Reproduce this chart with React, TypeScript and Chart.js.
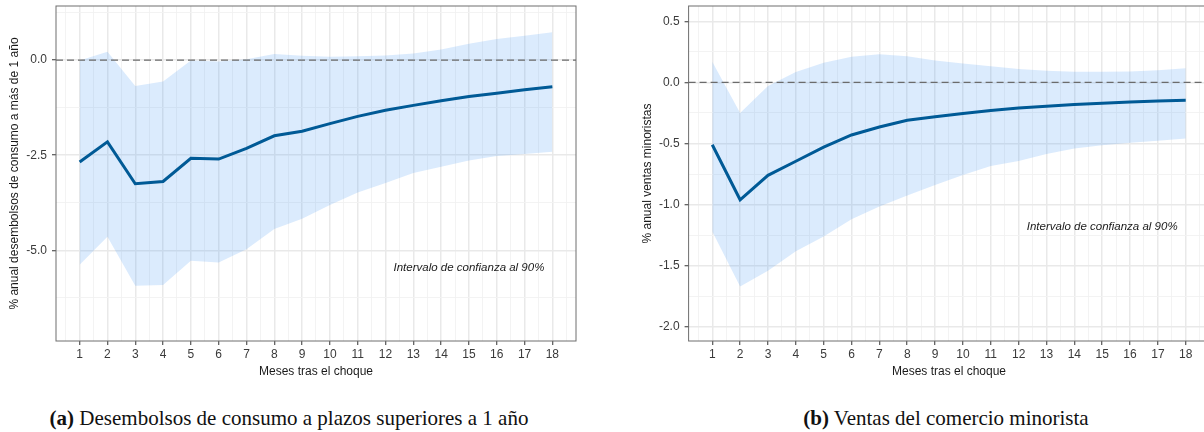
import React, { useEffect, useRef } from "react";
import { Chart, registerables } from "chart.js";

Chart.register(...registerables);

// ---------- data ----------
const months = [1, 2, 3, 4, 5, 6, 7, 8, 9, 10, 11, 12, 13, 14, 15, 16, 17, 18];

const consumoIrf = [-2.68, -2.15, -3.25, -3.19, -2.58, -2.6, -2.32, -1.99, -1.87, -1.67, -1.48, -1.32, -1.19, -1.07, -0.96, -0.87, -0.78, -0.7];
const consumoUpper = [-0.01, 0.22, -0.68, -0.56, -0.01, -0.04, 0.02, 0.16, 0.11, 0.09, 0.1, 0.12, 0.17, 0.28, 0.43, 0.55, 0.64, 0.73];
const consumoLower = [-5.38, -4.64, -5.93, -5.91, -5.27, -5.32, -4.97, -4.44, -4.17, -3.81, -3.48, -3.23, -2.97, -2.8, -2.64, -2.52, -2.47, -2.41];

const ventasIrf = [-0.51, -0.96, -0.76, -0.645, -0.53, -0.43, -0.365, -0.31, -0.28, -0.255, -0.23, -0.21, -0.195, -0.18, -0.17, -0.16, -0.152, -0.145];
const ventasUpper = [0.17, -0.25, -0.03, 0.085, 0.16, 0.21, 0.23, 0.215, 0.18, 0.155, 0.133, 0.11, 0.095, 0.087, 0.087, 0.09, 0.1, 0.115];
const ventasLower = [-1.22, -1.67, -1.54, -1.38, -1.26, -1.12, -1.015, -0.925, -0.84, -0.757, -0.684, -0.643, -0.586, -0.54, -0.513, -0.494, -0.477, -0.458];

const consumoYTicks = [0, -2.5, -5];
const ventasYTicks = [0.5, 0, -0.5, -1, -1.5, -2];

const xTitle = "Meses tras el choque";
const consumoYTitle = "% anual desembolsos de consumo a más de 1 año";
const ventasYTitle = "% anual ventas minoristas";
const noteText = "Intervalo de confianza al 90%";
const captionA = ["(a)", " Desembolsos de consumo a plazos superiores a 1 año"];
const captionB = ["(b)", " Ventas del comercio minorista"];

// ---------- styling ----------
const FONT = "'Liberation Sans', Arial, Helvetica, sans-serif";
const SERIF = "'Liberation Serif', 'Times New Roman', serif";
const LINE = "#005a96";
const BAND = "rgba(75,155,245,0.2)";

const isIn = (v: number, arr: number[]) => arr.some((a) => Math.abs(a - v) < 1e-6);

type PanelProps = {
  irf: number[];
  upper: number[];
  lower: number[];
  yMin: number;
  yMax: number;
  yStep: number;
  yTicks: number[];
  yTitle: string;
  note: { x: number; y: number };
  left: number;
  yAxisWidth: number;
  yTitlePad: number;
  padRight: number;
};

function Panel(p: PanelProps) {
  const ref = useRef<HTMLCanvasElement | null>(null);
  useEffect(() => {
    if (!ref.current) return;
    const xMajor = (ctx: any) => ctx.tick && isIn(ctx.tick.value, months);
    const yMajor = (ctx: any) => ctx.tick && isIn(ctx.tick.value, p.yTicks);

    const panelPlugin = {
      id: "panelDecor",
      afterDatasetsDraw(chart: any) {
        const { ctx, chartArea, scales } = chart;
        const { left, right, top, bottom } = chartArea;
        ctx.save();
        ctx.beginPath();
        ctx.rect(left, top, right - left, bottom - top);
        ctx.clip();
        const y0 = scales.y.getPixelForValue(0);
        ctx.setLineDash([7, 4]);
        ctx.strokeStyle = "#6b6b6b";
        ctx.lineWidth = 1.2;
        ctx.beginPath();
        ctx.moveTo(left, y0);
        ctx.lineTo(right, y0);
        ctx.stroke();
        ctx.setLineDash([]);
        ctx.fillStyle = "#1a1a1a";
        ctx.font = `italic 11.5px ${FONT}`;
        ctx.textAlign = "center";
        ctx.textBaseline = "middle";
        ctx.fillText(noteText, scales.x.getPixelForValue(p.note.x), scales.y.getPixelForValue(p.note.y));
        ctx.restore();
      },
      afterDraw(chart: any) {
        const { ctx, chartArea } = chart;
        const { left, right, top, bottom } = chartArea;
        ctx.save();
        ctx.strokeStyle = "#6e6e6e";
        ctx.lineWidth = 1;
        ctx.strokeRect(left, top, right - left, bottom - top);
        ctx.restore();
      },
    };

    const pts = (arr: number[]) => months.map((m, i) => ({ x: m, y: arr[i] }));

    const chart = new Chart(ref.current, {
      type: "line",
      data: {
        datasets: [
          {
            data: pts(p.irf),
            borderColor: LINE,
            borderWidth: 3,
            pointRadius: 0,
            pointHoverRadius: 0,
            fill: false,
            tension: 0,
          },
          {
            data: pts(p.upper),
            borderColor: "rgba(0,0,0,0)",
            borderWidth: 0,
            pointRadius: 0,
            pointHoverRadius: 0,
            backgroundColor: BAND,
            fill: "+1",
            tension: 0,
          },
          {
            data: pts(p.lower),
            borderColor: "rgba(0,0,0,0)",
            borderWidth: 0,
            pointRadius: 0,
            pointHoverRadius: 0,
            fill: false,
            tension: 0,
          },
        ],
      },
      options: {
        responsive: false,
        animation: false,
        events: [],
        layout: { padding: { top: 6, right: p.padRight, bottom: 7, left: 0 } },
        plugins: {
          legend: { display: false },
          tooltip: { enabled: false },
        },
        scales: {
          x: {
            type: "linear",
            min: 0.15,
            max: 18.85,
            ticks: {
              stepSize: 0.5,
              includeBounds: false,
              autoSkip: false,
              maxRotation: 0,
              minRotation: 0,
              padding: 2,
              color: "#3a3a3a",
              font: { family: FONT, size: 12 },
              callback: (v: any) => (isIn(Number(v), months) ? String(Math.round(Number(v))) : ""),
            },
            grid: {
              color: (c: any) => (xMajor(c) ? "#e9e9e9" : "#f2f2f2"),
              lineWidth: (c: any) => (xMajor(c) ? 1.5 : 0.9),
              tickLength: 4,
              tickWidth: 1,
              tickColor: (c: any) => (xMajor(c) ? "#333333" : "rgba(0,0,0,0)"),
            },
            border: { display: false },
            title: {
              display: true,
              text: xTitle,
              color: "#1a1a1a",
              font: { family: FONT, size: 12 },
              padding: { top: 0, bottom: 4 },
            },
            afterFit: (s: any) => {
              s.height = 42;
              s.paddingLeft = 0;
              s.paddingRight = 0;
              s.paddingTop = 0;
              s.paddingBottom = 0;
            },
          } as any,
          y: {
            type: "linear",
            min: p.yMin,
            max: p.yMax,
            ticks: {
              stepSize: p.yStep,
              includeBounds: false,
              autoSkip: false,
              padding: 5,
              color: "#3a3a3a",
              font: { family: FONT, size: 12 },
              callback: (v: any) => {
                let n = Number(v);
                if (!isIn(n, p.yTicks)) return "";
                if (Math.abs(n) < 1e-9) n = 0;
                return n.toFixed(1);
              },
            },
            grid: {
              color: (c: any) => (yMajor(c) ? "#e9e9e9" : "#f2f2f2"),
              lineWidth: (c: any) => (yMajor(c) ? 1.5 : 0.9),
              tickLength: 4,
              tickWidth: 1,
              tickColor: (c: any) => (yMajor(c) ? "#333333" : "rgba(0,0,0,0)"),
            },
            border: { display: false },
            title: {
              display: true,
              text: p.yTitle,
              color: "#1a1a1a",
              font: { family: FONT, size: 12 },
              padding: { top: p.yTitlePad, bottom: 0 },
            },
            afterFit: (s: any) => {
              s.width = p.yAxisWidth;
              s.paddingLeft = 0;
              s.paddingRight = 0;
              s.paddingTop = 0;
              s.paddingBottom = 0;
            },
          } as any,
        },
      },
      plugins: [panelPlugin],
    } as any);
    return () => chart.destroy();
  }, []);

  return (
    <canvas
      ref={ref}
      width={600}
      height={390}
      style={{ position: "absolute", left: p.left, top: 0, width: 600, height: 390 }}
    />
  );
}

function Caption({ parts, center }: { parts: string[]; center: number }) {
  return (
    <div
      style={{
        position: "absolute",
        left: center,
        top: 406,
        transform: "translateX(-50%)",
        whiteSpace: "nowrap",
        fontFamily: SERIF,
        fontSize: 21,
        lineHeight: "24px",
        color: "#111",
      }}
    >
      <b>{parts[0]}</b>
      {parts[1]}
    </div>
  );
}

export default function App() {
  return (
    <div
      style={{
        position: "fixed",
        left: 0,
        top: 0,
        width: 1204,
        height: 432,
        overflow: "hidden",
        background: "#fff",
      }}
    >
      <Panel
        irf={consumoIrf}
        upper={consumoUpper}
        lower={consumoLower}
        yMin={-7.38}
        yMax={1.42}
        yStep={1.25}
        yTicks={consumoYTicks}
        yTitle={consumoYTitle}
        note={{ x: 15, y: -5.45 }}
        left={0}
        yAxisWidth={56}
        yTitlePad={7.8}
        padRight={24}
      />
      <Panel
        irf={ventasIrf}
        upper={ventasUpper}
        lower={ventasLower}
        yMin={-2.115}
        yMax={0.625}
        yStep={0.25}
        yTicks={ventasYTicks}
        yTitle={ventasYTitle}
        note={{ x: 15, y: -1.18 }}
        left={634}
        yAxisWidth={54.6}
        yTitlePad={6.8}
        padRight={24.6}
      />
      <Caption parts={captionA} center={289} />
      <Caption parts={captionB} center={946} />
    </div>
  );
}
